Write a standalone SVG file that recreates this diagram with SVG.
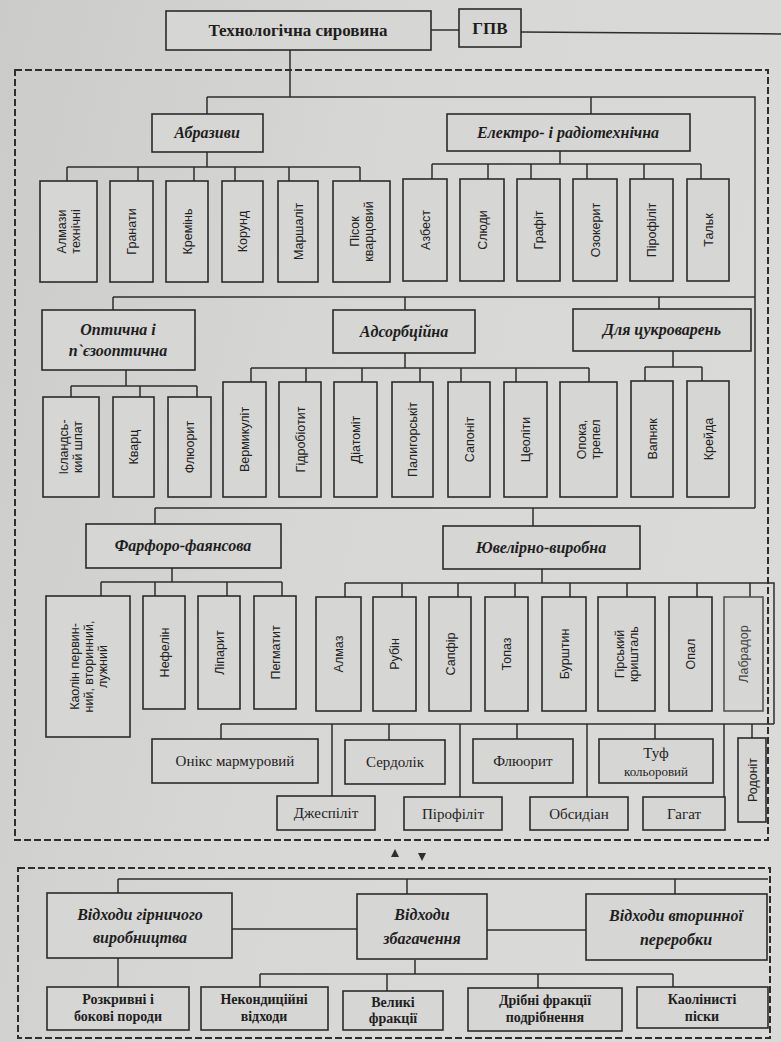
<svg xmlns="http://www.w3.org/2000/svg" width="781" height="1042" viewBox="0 0 781 1042">
<defs>
<linearGradient id="bg" x1="0" y1="0" x2="1" y2="0.3">
<stop offset="0" stop-color="#cbcbc9"/>
<stop offset="0.5" stop-color="#d7d7d5"/>
<stop offset="1" stop-color="#dadad8"/>
</linearGradient>
<style>
.b{fill:#d6d6d4;stroke:#2b2b2b;stroke-width:1.6}
.c{fill:none;stroke:#2e2e2e;stroke-width:1.5}
.d{fill:none;stroke:#2e2e2e;stroke-width:2;stroke-dasharray:7 3}
.t{font-family:"Liberation Serif","DejaVu Serif",serif;fill:#1e1e1e;text-anchor:middle}
.top{font-size:17px;font-weight:bold}
.h{font-size:16px;font-weight:bold;font-style:italic}
.r{font-family:"Liberation Sans","DejaVu Sans",sans-serif;font-size:12.5px;fill:#222;text-anchor:middle}
.s{font-size:15px}
.w{font-size:14px;font-weight:bold}
.ar{fill:#2e2e2e}
</style>
</defs>
<rect width="781" height="1042" fill="url(#bg)"/>

<g id="connectors">
<path class="c" d="M431 30H459 M521 32L781 34"/>
<path class="c" d="M290 50V97 M207 97H755V508 M207 97V114 M591 97V114"/>
<path class="c" d="M207 152V167 M67 167H360 M67 167V181 M138 167V181 M194 167V181 M235 167V181 M289 167V181 M360 167V181"/>
<path class="c" d="M560 151V164 M432 164H701 M432 164V179 M488 164V179 M531 164V179 M587 164V179 M644 164V179 M701 164V179"/>
<path class="c" d="M113 297H755 M113 297V310 M405 297V310 M659 297V309"/>
<path class="c" d="M126 370V386 M71 386H197 M71 386V397 M140 386V397 M197 386V397"/>
<path class="c" d="M405 353V368 M251 368H589 M251 368V382 M306 368V382 M362 368V382 M420 368V382 M461 368V382 M516 368V382 M589 368V382"/>
<path class="c" d="M673 351V367 M645 367H702 M645 367V381 M702 367V381"/>
<path class="c" d="M155 508H755 M155 508V524 M533 508V526"/>
<path class="c" d="M172 568V582 M101 582H282 M101 582V596 M155 582V596 M227 582V596 M282 582V596"/>
<path class="c" d="M542 569V583 M345 583H774V724 M345 583V597 M402 583V597 M458 583V597 M515 583V597 M570 583V597 M627 583V597 M697 583V597 M750 583V597"/>
<path class="c" d="M221 724H774 M221 724V739 M332 724V796 M389 724V740 M460 724V797 M517 724V739 M587 724V797 M655 724V739 M724 724V797 M752 724V738"/>
<path class="ar" d="M395 849L391 857H399Z M422 861L418 853H426Z"/>
<path class="c" d="M118 879H768 M118 879V893 M407 879V894 M675 879V894"/>
<path class="c" d="M232 929H357 M487 930H586"/>
<path class="c" d="M118 958V987 M415 960V974 M260 974H673 M260 974V987 M387 974V991 M538 974V988 M673 974V987"/>
</g>

<rect class="d" x="15" y="70" width="753" height="770"/>
<rect class="d" x="18" y="868" width="752" height="170"/>

<g id="n-tech"><rect class="b" x="166" y="11" width="265" height="39"/><text class="t top" x="298" y="36">Технологічна сировина</text></g>
<g id="n-gpv"><rect class="b" x="459" y="9" width="62" height="38"/><text class="t top" x="490" y="34">ГПВ</text></g>

<g id="n-abraz"><rect class="b" x="152" y="114" width="111" height="38"/><text class="t h" x="207" y="138">Абразиви</text></g>
<g id="n-electro"><rect class="b" x="447" y="114" width="243" height="37"/><text class="t h" x="568" y="138">Електро- і радіотехнічна</text></g>

<g id="n-a1"><rect class="b" x="40" y="181" width="57" height="101"/><text class="r" transform="translate(68.5 231.5) rotate(-90)"><tspan x="0" dy="-3">Алмази</tspan><tspan x="0" dy="14">технічні</tspan></text></g>
<g id="n-a2"><rect class="b" x="110" y="181" width="43" height="101"/><text class="r" transform="translate(131.5 231.5) rotate(-90)" dy="4.5">Гранати</text></g>
<g id="n-a3"><rect class="b" x="166" y="181" width="42" height="101"/><text class="r" transform="translate(187 231.5) rotate(-90)" dy="4.5">Кремінь</text></g>
<g id="n-a4"><rect class="b" x="222" y="181" width="41" height="101"/><text class="r" transform="translate(242.5 231.5) rotate(-90)" dy="4.5">Корунд</text></g>
<g id="n-a5"><rect class="b" x="278" y="181" width="40" height="101"/><text class="r" transform="translate(298 231.5) rotate(-90)" dy="4.5">Маршаліт</text></g>
<g id="n-a6"><rect class="b" x="333" y="181" width="57" height="101"/><text class="r" transform="translate(361.5 231.5) rotate(-90)"><tspan x="0" dy="-3">Пісок</tspan><tspan x="0" dy="14">кварцовий</tspan></text></g>

<g id="n-e1"><rect class="b" x="403" y="179" width="44" height="102"/><text class="r" transform="translate(425 230) rotate(-90)" dy="4.5">Азбест</text></g>
<g id="n-e2"><rect class="b" x="460" y="179" width="44" height="102"/><text class="r" transform="translate(482 230) rotate(-90)" dy="4.5">Слюди</text></g>
<g id="n-e3"><rect class="b" x="517" y="179" width="43" height="102"/><text class="r" transform="translate(538.5 230) rotate(-90)" dy="4.5">Графіт</text></g>
<g id="n-e4"><rect class="b" x="573" y="179" width="44" height="102"/><text class="r" transform="translate(595 230) rotate(-90)" dy="4.5">Озокерит</text></g>
<g id="n-e5"><rect class="b" x="630" y="179" width="43" height="102"/><text class="r" transform="translate(651.5 230) rotate(-90)" dy="4.5">Пірофіліт</text></g>
<g id="n-e6"><rect class="b" x="687" y="179" width="42" height="102"/><text class="r" transform="translate(708 230) rotate(-90)" dy="4.5">Тальк</text></g>

<g id="n-optic"><rect class="b" x="42" y="310" width="153" height="60"/><text class="t h" x="118" y="335">Оптична і</text><text class="t h" x="118" y="356">п`єзооптична</text></g>
<g id="n-adsorb"><rect class="b" x="333" y="310" width="142" height="43"/><text class="t h" x="404" y="337">Адсорбційна</text></g>
<g id="n-sugar"><rect class="b" x="573" y="309" width="178" height="42"/><text class="t h" x="662" y="335">Для цукроварень</text></g>

<g id="n-o1"><rect class="b" x="43" y="397" width="56" height="100"/><text class="r" transform="translate(71 447) rotate(-90)"><tspan x="0" dy="-3">Ісландсь-</tspan><tspan x="0" dy="14">кий шпат</tspan></text></g>
<g id="n-o2"><rect class="b" x="113" y="397" width="41" height="100"/><text class="r" transform="translate(133.5 447) rotate(-90)" dy="4.5">Кварц</text></g>
<g id="n-o3"><rect class="b" x="168" y="397" width="43" height="100"/><text class="r" transform="translate(189.5 447) rotate(-90)" dy="4.5">Флюорит</text></g>

<g id="n-ad1"><rect class="b" x="223" y="382" width="43" height="115"/><text class="r" transform="translate(244.5 439.5) rotate(-90)" dy="4.5">Вермикуліт</text></g>
<g id="n-ad2"><rect class="b" x="279" y="382" width="42" height="115"/><text class="r" transform="translate(300 439.5) rotate(-90)" dy="4.5">Гідробіотит</text></g>
<g id="n-ad3"><rect class="b" x="334" y="382" width="43" height="115"/><text class="r" transform="translate(355.5 439.5) rotate(-90)" dy="4.5">Діатоміт</text></g>
<g id="n-ad4"><rect class="b" x="392" y="382" width="41" height="115"/><text class="r" transform="translate(412.5 439.5) rotate(-90)" dy="4.5">Палигорськіт</text></g>
<g id="n-ad5"><rect class="b" x="448" y="382" width="42" height="115"/><text class="r" transform="translate(469 439.5) rotate(-90)" dy="4.5">Сапоніт</text></g>
<g id="n-ad6"><rect class="b" x="504" y="382" width="43" height="115"/><text class="r" transform="translate(525.5 439.5) rotate(-90)" dy="4.5">Цеоліти</text></g>
<g id="n-ad7"><rect class="b" x="560" y="382" width="57" height="115"/><text class="r" transform="translate(588.5 439.5) rotate(-90)"><tspan x="0" dy="-3">Опока,</tspan><tspan x="0" dy="14">трепел</tspan></text></g>

<g id="n-s1"><rect class="b" x="631" y="381" width="42" height="116"/><text class="r" transform="translate(652 439) rotate(-90)" dy="4.5">Вапняк</text></g>
<g id="n-s2"><rect class="b" x="687" y="381" width="42" height="116"/><text class="r" transform="translate(708 439) rotate(-90)" dy="4.5">Крейда</text></g>

<g id="n-farfor"><rect class="b" x="86" y="524" width="195" height="44"/><text class="t h" x="183" y="551">Фарфоро-фаянсова</text></g>
<g id="n-jewel"><rect class="b" x="443" y="526" width="197" height="43"/><text class="t h" x="541" y="553">Ювелірно-виробна</text></g>

<g id="n-f1"><rect class="b" x="46" y="596" width="84" height="141"/><text class="r" transform="translate(88 666.5) rotate(-90)"><tspan x="0" dy="-9.5">Каолін первин-</tspan><tspan x="0" dy="14">ний, вторинний,</tspan><tspan x="0" dy="14">лужний</tspan></text></g>
<g id="n-f2"><rect class="b" x="143" y="596" width="42" height="113"/><text class="r" transform="translate(164 652.5) rotate(-90)" dy="4.5">Нефелін</text></g>
<g id="n-f3"><rect class="b" x="198" y="596" width="42" height="113"/><text class="r" transform="translate(219 652.5) rotate(-90)" dy="4.5">Ліпарит</text></g>
<g id="n-f4"><rect class="b" x="254" y="596" width="42" height="113"/><text class="r" transform="translate(275 652.5) rotate(-90)" dy="4.5">Пегматит</text></g>

<g id="n-j1"><rect class="b" x="316" y="597" width="45" height="114"/><text class="r" transform="translate(338.5 654) rotate(-90)" dy="4.5">Алмаз</text></g>
<g id="n-j2"><rect class="b" x="373" y="597" width="43" height="114"/><text class="r" transform="translate(394.5 654) rotate(-90)" dy="4.5">Рубін</text></g>
<g id="n-j3"><rect class="b" x="429" y="597" width="42" height="114"/><text class="r" transform="translate(450 654) rotate(-90)" dy="4.5">Сапфір</text></g>
<g id="n-j4"><rect class="b" x="485" y="597" width="43" height="114"/><text class="r" transform="translate(506.5 654) rotate(-90)" dy="4.5">Топаз</text></g>
<g id="n-j5"><rect class="b" x="542" y="597" width="44" height="114"/><text class="r" transform="translate(564 654) rotate(-90)" dy="4.5">Бурштин</text></g>
<g id="n-j6"><rect class="b" x="598" y="597" width="57" height="114"/><text class="r" transform="translate(626.5 654) rotate(-90)"><tspan x="0" dy="-3">Гірський</tspan><tspan x="0" dy="14">кришталь</tspan></text></g>
<g id="n-j7"><rect class="b" x="669" y="597" width="43" height="114"/><text class="r" transform="translate(690.5 654) rotate(-90)" dy="4.5">Опал</text></g>
<g id="n-j8"><rect class="b" x="724" y="597" width="39" height="114" style="stroke:#555"/><text class="r" transform="translate(743.5 654) rotate(-90)" dy="4.5" style="fill:#444">Лабрадор</text></g>

<g id="n-k1"><rect class="b" x="152" y="739" width="166" height="44"/><text class="t s" x="235" y="766">Онікс мармуровий</text></g>
<g id="n-k2"><rect class="b" x="345" y="740" width="100" height="44"/><text class="t s" x="395" y="767">Сердолік</text></g>
<g id="n-k3"><rect class="b" x="473" y="739" width="100" height="44"/><text class="t s" x="523" y="766">Флюорит</text></g>
<g id="n-k4"><rect class="b" x="599" y="739" width="114" height="44"/><text class="t s" x="656" y="758">Туф</text><text class="t" x="656" y="776" style="font-size:13px">кольоровий</text></g>
<g id="n-k5"><rect class="b" x="738" y="738" width="28" height="84"/><text class="r" transform="translate(752 780) rotate(-90)" dy="4.5">Родоніт</text></g>
<g id="n-k6"><rect class="b" x="277" y="796" width="98" height="34"/><text class="t s" x="326" y="818">Джеспіліт</text></g>
<g id="n-k7"><rect class="b" x="404" y="797" width="98" height="33"/><text class="t s" x="453" y="819">Пірофіліт</text></g>
<g id="n-k8"><rect class="b" x="530" y="797" width="98" height="33"/><text class="t s" x="579" y="819">Обсидіан</text></g>
<g id="n-k9"><rect class="b" x="643" y="797" width="82" height="33"/><text class="t s" x="684" y="819">Гагат</text></g>

<g id="n-w1"><rect class="b" x="47" y="893" width="185" height="65"/><text class="t h" x="140" y="920">Відходи гірничого</text><text class="t h" x="140" y="943">виробництва</text></g>
<g id="n-w2"><rect class="b" x="357" y="894" width="130" height="65"/><text class="t h" x="422" y="920">Відходи</text><text class="t h" x="422" y="944">збагачення</text></g>
<g id="n-w3"><rect class="b" x="586" y="894" width="181" height="66"/><text class="t h" x="676" y="921">Відходи вторинної</text><text class="t h" x="676" y="945">переробки</text></g>

<g id="n-x1"><rect class="b" x="47" y="987" width="142" height="43"/><text class="t w" x="118" y="1004">Розкривні і</text><text class="t w" x="118" y="1021">бокові породи</text></g>
<g id="n-x2"><rect class="b" x="201" y="987" width="127" height="43"/><text class="t w" x="264" y="1004">Некондиційні</text><text class="t w" x="264" y="1021">відходи</text></g>
<g id="n-x3"><rect class="b" x="343" y="991" width="100" height="39"/><text class="t w" x="393" y="1007">Великі</text><text class="t w" x="393" y="1023">фракції</text></g>
<g id="n-x4"><rect class="b" x="468" y="988" width="154" height="43"/><text class="t w" x="545" y="1005">Дрібні фракції</text><text class="t w" x="545" y="1022">подрібнення</text></g>
<g id="n-x5"><rect class="b" x="637" y="987" width="131" height="41"/><text class="t w" x="702" y="1004">Каолінисті</text><text class="t w" x="702" y="1021">піски</text></g>
</svg>
